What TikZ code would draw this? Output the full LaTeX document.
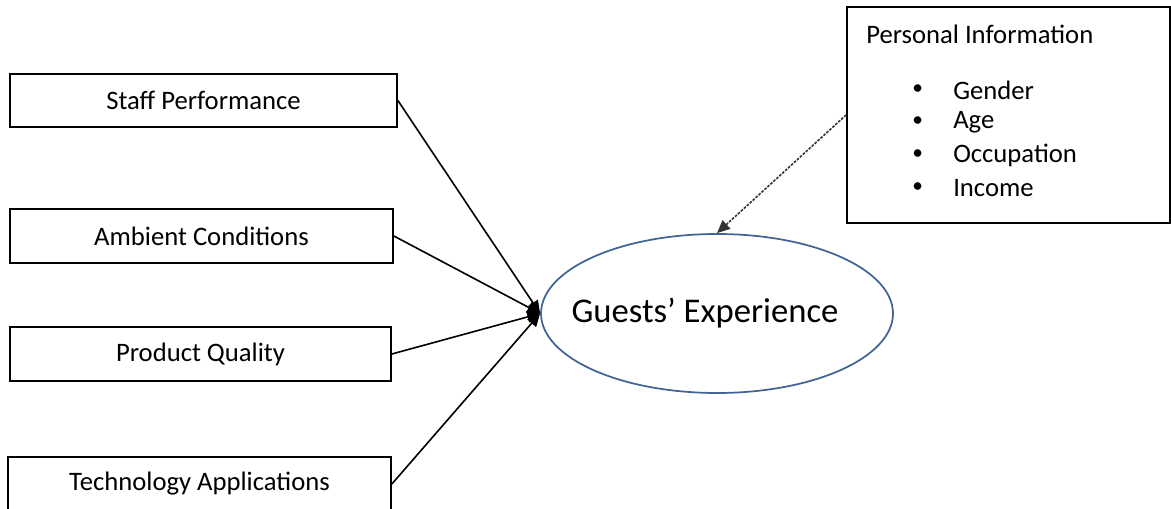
\documentclass[tikz,border=0pt]{standalone}
\usepackage{fontspec}
\setmainfont{Carlito}
\usetikzlibrary{arrows.meta,shapes.geometric}
\definecolor{ellblue}{RGB}{65,100,150}

\begin{document}
\begin{tikzpicture}[x=0.75pt,y=-0.75pt, font=\fontsize{20}{24}\selectfont,
 b/.style={draw,line width=1.3pt,inner sep=0pt,minimum height=40.5pt},
 t/.style={inner sep=0pt,anchor=west},
 a/.style={-{Triangle[length=3.4mm,width=3mm]},line width=1.2pt}]
\useasboundingbox (0,0) rectangle (1171,509);
\node[b,minimum width=290.25pt,minimum height=39.75pt] (sp) at (203.5,100.5) {Staff Performance};
\node[b,minimum width=287.25pt] (ac) at (201.5,236) {Ambient Conditions};
\node[b,minimum width=285.75pt] (pq) at (200.5,354) {Product Quality};
\node[b,minimum width=287.25pt] (ta) at (199.5,484) {Technology Applications};
\node[ellipse,draw=ellblue,line width=1.3pt,minimum width=264pt,minimum height=119.25pt,inner sep=0pt,
 font=\fontsize{26}{31}\selectfont] (ge) at (717,313.5) {\hspace*{-18pt}Guests’ Experience};
\node[b,minimum width=242.25pt,minimum height=162pt] (info) at (1008.5,115) {};
\node[t] (pi) at (866,34) {Personal Information};
\foreach \y/\w [count=\i] in {90/Gender,122/Age,155/Occupation,188/Income}{
 \node[t,font=\fontsize{16}{19}\selectfont] (dot\i) at (912,\y) {\textbullet};
 \node[t] (it\i) at (953,\y) {\w};
}
\draw[a] (sp.east)--(ge.west);\draw[a] (ac.east)--(ge.west);
\draw[a] (pq.east)--(ge.west);\draw[a] (ta.east)--(ge.west);
\draw[a,draw=black!80,dash pattern=on 2pt off 1pt] (info.west)--(ge.north);
\end{tikzpicture}
\end{document}
